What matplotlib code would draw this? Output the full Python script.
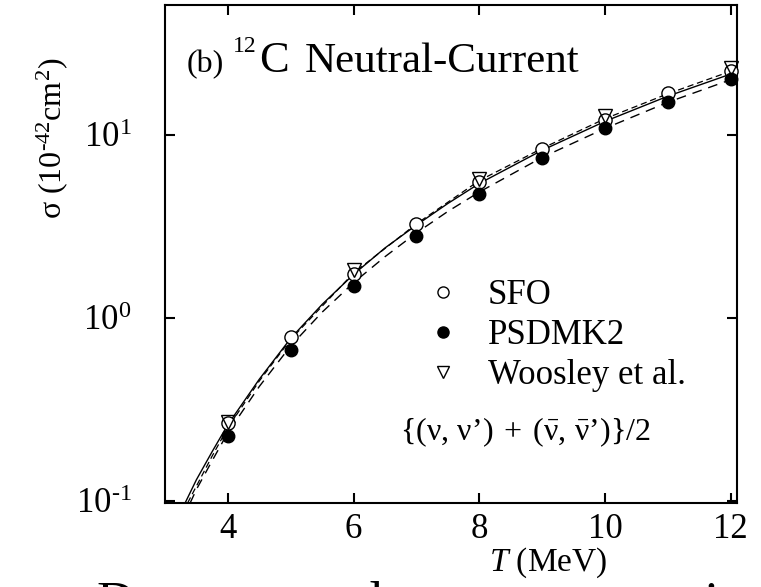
import matplotlib
matplotlib.use('Agg')
import matplotlib.pyplot as plt
from matplotlib.lines import Line2D

plt.rcParams['font.family'] = ['Liberation Serif', 'DejaVu Serif']
plt.rcParams['mathtext.fontset'] = 'custom'
plt.rcParams['mathtext.rm'] = 'Liberation Serif'
plt.rcParams['mathtext.it'] = 'Liberation Serif:italic'

# values
T_points = [4, 5, 6, 7, 8, 9, 10, 11, 12]
sfo = [0.265, 0.785, 1.74, 3.24, 5.5, 8.3, 12.0, 16.8, 22.3]
psdmk2 = [0.226, 0.664, 1.49, 2.80, 4.73, 7.4, 10.9, 15.1, 20.1]
T_woosley = [4, 6, 8, 10, 12]
woosley = [0.27, 1.82, 5.7, 12.6, 23.0]

# curves
T_solid = [3.32, 3.5, 3.75, 4, 4.5, 5, 5.5, 6, 6.5, 7, 7.5, 8, 9, 10, 11, 12.1]
sigma_solid = [0.097, 0.13, 0.185, 0.26, 0.46, 0.77, 1.18, 1.72, 2.4, 3.2,
               4.2, 5.4, 8.2, 11.8, 16.2, 22.0]
T_dash = [3.40, 3.5, 3.75, 4, 4.5, 5, 5.5, 6, 6.5, 7, 7.5, 8, 9, 10, 11, 12.1]
sigma_dash = [0.097, 0.115, 0.165, 0.235, 0.42, 0.70, 1.07, 1.55, 2.15, 2.9,
              3.8, 4.85, 7.5, 10.8, 15.0, 20.5]
T_short = [3.36, 3.5, 3.75, 4, 4.5, 5, 6, 7, 8, 9, 10, 11, 12.1]
sigma_short = [0.097, 0.12, 0.175, 0.25, 0.45, 0.76, 1.75, 3.25, 5.6, 8.4,
               12.2, 16.7, 22.8]

x_ticks = [4, 6, 8, 10, 12]
y_ticks = [0.1, 1, 10]
y_ticklabels = [r'$10^{\text{-}1}$', r'$10^{0}$', r'$10^{1}$']

fig = plt.figure(figsize=(7.61, 5.87), dpi=100)
ax = fig.add_axes([0.2168, 0.1431, 0.7517, 0.8484])

ax.plot(T_solid, sigma_solid, '-', color='black', lw=1.0)
ax.plot(T_short, sigma_short, color='black', lw=0.9, dashes=(5, 3))
ax.plot(T_dash, sigma_dash, color='black', lw=1.0, dashes=(7, 5))

ax.plot(T_points, sfo, 'o', ms=9.5, mfc='white', mec='black', mew=1.0,
        clip_on=False, zorder=3)
ax.plot(T_points, psdmk2, 'o', ms=9, mfc='black', mec='black',
        clip_on=False, zorder=3)
ax.plot(T_woosley, woosley, 'v', ms=10, mfc='none', mec='black', mew=1.0,
        clip_on=False, zorder=4)

ax.set_yscale('log')
ax.set_xlim(3, 12.1)
ax.set_ylim(0.097, 51)
ax.set_xticks(x_ticks)
ax.set_yticks(y_ticks)
ax.set_yticklabels(y_ticklabels)
ax.yaxis.set_minor_locator(matplotlib.ticker.NullLocator())

for s in ax.spines.values():
    s.set_linewidth(1.5)
ax.tick_params(which='both', direction='in', top=True, right=True,
               length=7, width=1.5, labelsize=25)
ax.tick_params(axis='x', pad=7)
ax.tick_params(axis='y', pad=24)

ax.set_xlabel(r'$T$ (MeV)', fontsize=24, va='top')
ax.xaxis.set_label_coords(0.67, -0.086)
ax.set_ylabel(r'σ (10$^{\text{-}42}$cm$^{2}$)', fontsize=23)
ax.yaxis.set_label_coords(-0.166, 0.733)

# panel title
ax.text(0.038, 0.865, '(b)', transform=ax.transAxes, fontsize=23,
        va='baseline')
ax.text(0.119, 0.905, '12', transform=ax.transAxes, fontsize=17,
        va='baseline')
ax.text(0.164, 0.865, 'C', transform=ax.transAxes, fontsize=32,
        va='baseline')
ax.text(0.245, 0.865, 'Neutral-Current', transform=ax.transAxes,
        fontsize=31, va='baseline')

handles = [
    Line2D([], [], ls='none', marker='o', ms=8, mfc='white', mec='black'),
    Line2D([], [], ls='none', marker='o', ms=8, mfc='black', mec='black'),
    Line2D([], [], ls='none', marker='v', ms=8, mfc='white', mec='black'),
]
ax.legend(handles, ['SFO', 'PSDMK2', 'Woosley et al.'], loc='upper left',
          bbox_to_anchor=(0.455, 0.45), frameon=False, fontsize=25,
          handlelength=1.0, handletextpad=0.8, labelspacing=0.2,
          borderpad=0, borderaxespad=0)

ax.text(0.63, 0.143,
        r'$\{(\mathrm{\nu},\, \mathrm{\nu}’)\;+\;(\bar{\mathrm{\nu}},\, \bar{\mathrm{\nu}}’)\}/2$',
        transform=ax.transAxes, fontsize=23, ha='center', va='center')

# cut-off text from the page below
fig.text(97 / 761, -31 / 587, 'Deuteron and neutron screening', fontsize=38,
         va='baseline', ha='left')

fig.savefig('out.png', dpi=100)
